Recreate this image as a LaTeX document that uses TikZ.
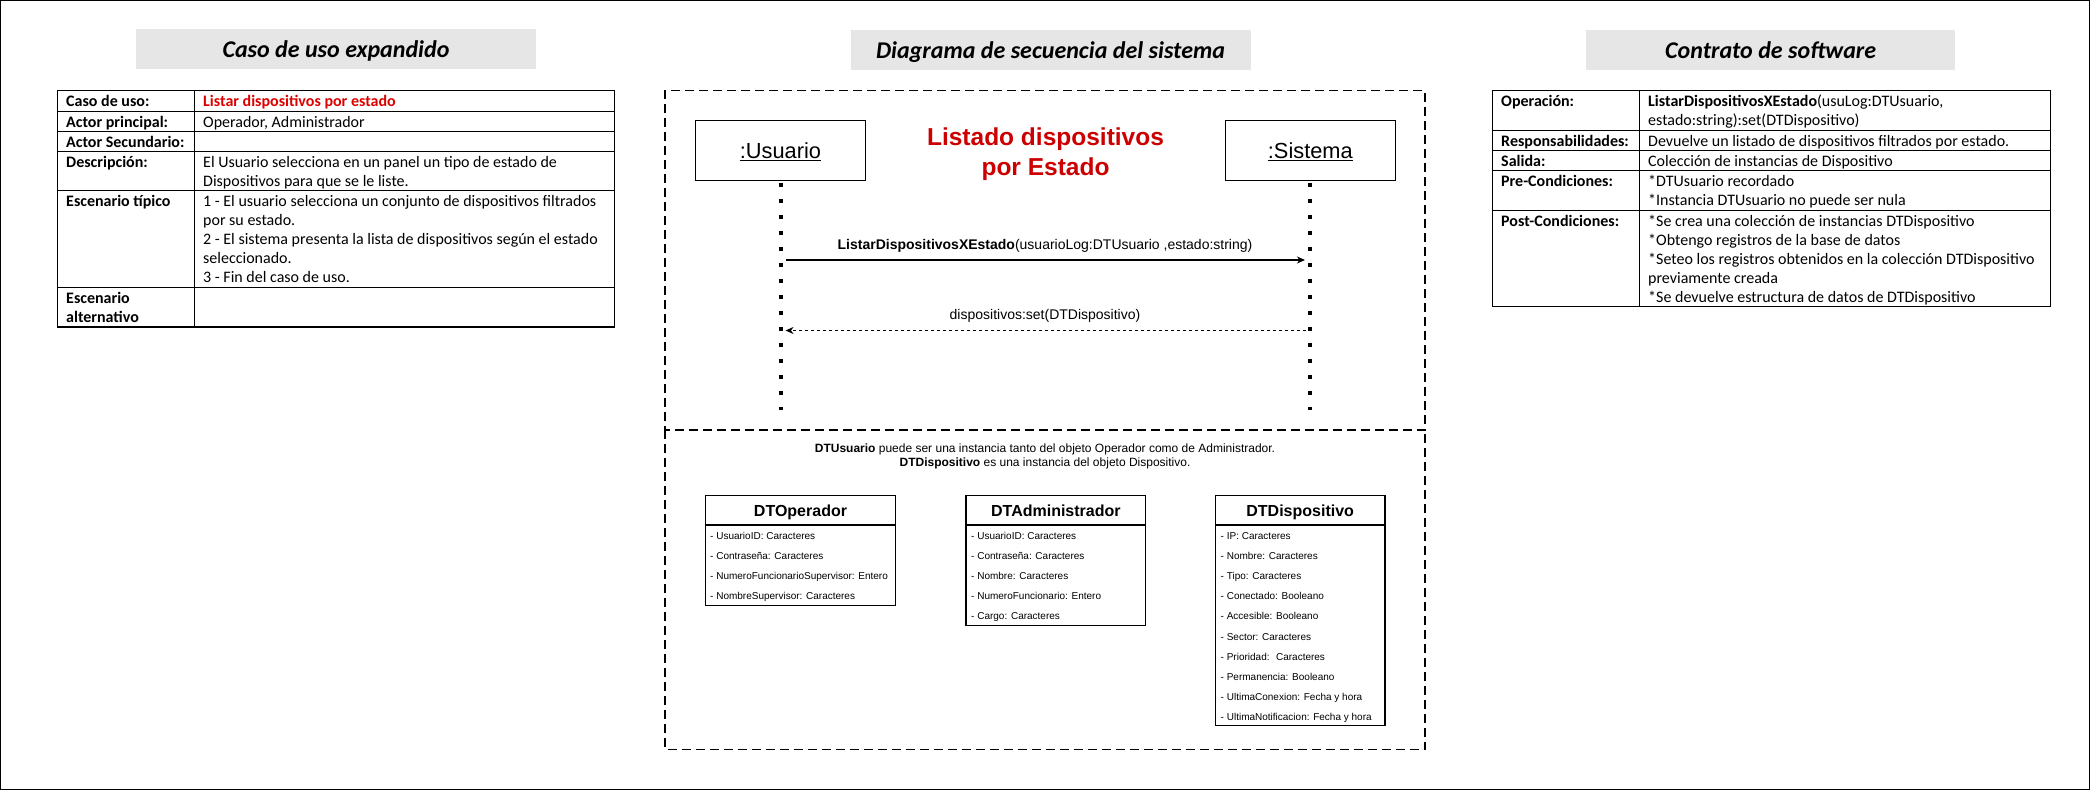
\documentclass[tikz,border=0pt]{standalone}
\usepackage{fontspec}
\setmainfont{Carlito}
\newfontfamily\arial{Liberation Sans}
\usetikzlibrary{arrows.meta}
\definecolor{tgray}{RGB}{230,230,230}
\definecolor{tred}{RGB}{222,0,0}
\definecolor{sred}{RGB}{204,0,0}
\begin{document}
\begin{tikzpicture}[x=1pt,y=-1pt,
  tline/.style={line width=1.2pt, draw=black},
  cellt/.style={anchor=north west, inner sep=0pt, align=left, font=\fontsize{16}{19}\selectfont},
  titlebox/.style={fill=tgray, draw=none, inner sep=0pt, minimum height=40pt, text height=21pt, text depth=4pt, font=\fontsize{24}{29}\selectfont\bfseries\itshape},
  seqbox/.style={draw, line width=1.3pt, minimum width=170pt, minimum height=59.8pt, inner sep=0pt},
  seqtext/.style={inner sep=0pt, font=\arial\fontsize{21.8}{26}\selectfont},
  lifeline/.style={line width=4pt, dash pattern=on 4pt off 12pt},
  msg/.style={line width=1.3pt, -{Stealth[length=8pt,width=7pt,inset=2.5pt]}},
  retmsg/.style={msg, dash pattern=on 3pt off 3pt},
  frame/.style={line width=1.3pt, dash pattern=on 9pt off 5pt},
  msglabel/.style={anchor=base, inner sep=0pt, font=\arial\fontsize{14}{17}\selectfont},
  note/.style={anchor=base, inner sep=0pt, font=\arial\fontsize{12}{14}\selectfont},
  attr/.style={anchor=base west, inner sep=0pt, font=\arial\fontsize{10}{12}\selectfont},
  ctitle/.style={anchor=base, inner sep=0pt, font=\arial\fontsize{16}{19}\selectfont\bfseries},
  cbox/.style={line width=1.3pt, draw=black}
]
\fill[white] (0,0) rectangle (2091,792);
\useasboundingbox (0,0) rectangle (2091,792);
\draw[line width=1.3pt] (0.65,0.65) rectangle (2089.6,789.6);

% ---------- titles ----------
\node[titlebox, minimum width=400pt] (t1) at (336,49.3) {Caso de uso expandido};
\node[titlebox, minimum width=400pt] (t2) at (1050.5,50.2) {Diagrama de secuencia del sistema};
\node[titlebox, minimum width=369pt] (t3) at (1770.7,49.7) {Contrato de software};

% ---------- left table ----------
\draw[tline] (57.3,90.3) rectangle (614.8,327);
\draw[tline] (194.4,90.3) -- (194.4,327);
\foreach \yy in {111.3,131.3,151.7,190.3,287.3}{\draw[tline] (57.3,\yy) -- (614.8,\yy);}
\node[cellt] (la1) at (66,93) {\strut\textbf{Caso de uso:}};
\node[cellt, text=tred] (lb1) at (203,93) {\strut\textbf{Listar dispositivos por estado}};
\node[cellt] (la2) at (66,114) {\strut\textbf{Actor principal:}};
\node[cellt] (lb2) at (203,114) {\strut Operador, Administrador};
\node[cellt] (la3) at (66,134) {\strut\textbf{Actor Secundario:}};
\node[cellt] (la4) at (66,154.4) {\strut\textbf{Descripción:}};
\node[cellt] (lb4) at (203,154.4) {\strut El Usuario selecciona en un panel un tipo de estado de\\\strut Dispositivos para que se le liste.};
\node[cellt] (la5) at (66,193) {\strut\textbf{Escenario típico}};
\node[cellt] (lb5) at (203,193) {\strut 1 - El usuario selecciona un conjunto de dispositivos filtrados\\\strut por su estado.\\\strut 2 - El sistema presenta la lista de dispositivos según el estado\\\strut seleccionado.\\\strut 3 - Fin del caso de uso.};
\node[cellt] (la6) at (66,290) {\strut\textbf{Escenario}\\\strut\textbf{alternativo}};

% ---------- right table ----------
\draw[tline] (1492.4,90.3) rectangle (2050.2,306.3);
\draw[tline] (1639.7,90.3) -- (1639.7,306.3);
\foreach \yy in {130.3,150.3,170.3,210.3}{\draw[tline] (1492.4,\yy) -- (2050.2,\yy);}
\node[cellt] (ra1) at (1501,93) {\strut\textbf{Operación:}};
\node[cellt] (rb1) at (1648,93) {\strut\textbf{ListarDispositivosXEstado}(usuLog:DTUsuario,\\\strut estado:string):set(DTDispositivo)};
\node[cellt] (ra2) at (1501,133) {\strut\textbf{Responsabilidades:}};
\node[cellt] (rb2) at (1648,133) {\strut Devuelve un listado de dispositivos filtrados por estado.};
\node[cellt] (ra3) at (1501,153) {\strut\textbf{Salida:}};
\node[cellt] (rb3) at (1648,153) {\strut Colección de instancias de Dispositivo};
\node[cellt] (ra4) at (1501,173) {\strut\textbf{Pre-Condiciones:}};
\node[cellt] (rb4) at (1648,173) {\strut *DTUsuario recordado\\\strut *Instancia DTUsuario no puede ser nula};
\node[cellt] (ra5) at (1501,213) {\strut\textbf{Post-Condiciones:}};
\node[cellt] (rb5) at (1648,213) {\strut *Se crea una colección de instancias DTDispositivo\\\strut *Obtengo registros de la base de datos\\\strut *Seteo los registros obtenidos en la colección DTDispositivo\\\strut previamente creada\\\strut *Se devuelve estructura de datos de DTDispositivo};

% ---------- sequence diagram ----------
\draw[frame] (665,90.3) rectangle (1425,430);
\draw[frame] (665,430) -- (665,749.5) -- (1425,749.5) -- (1425,430);

\node[seqbox] (usr) at (780.5,150.4) {};
\node[seqtext] (usrt) at (usr.center) {:Usuario};
\draw[line width=1.4pt] ([yshift=-2.3pt]usrt.base west) -- ([yshift=-2.3pt]usrt.base east);
\node[seqbox] (sis) at (1310.3,150.4) {};
\node[seqtext] (sist) at (sis.center) {:Sistema};
\draw[line width=1.4pt] ([yshift=-2.3pt]sist.base west) -- ([yshift=-2.3pt]sist.base east);

\node[align=center, inner sep=0pt, text=sred, font=\arial\fontsize{24.5}{30}\selectfont\bfseries] (seqtitle) at (1045.5,154.5) {Listado dispositivos\\por Estado};

\coordinate (uend) at (780.5,410);
\coordinate (send) at (1310.3,410);
\draw[lifeline] ([yshift=-2pt]usr.south) -- (uend);
\draw[lifeline] ([yshift=-2pt]sis.south) -- (send);

\coordinate (m1s) at (785.5,260);
\coordinate (m1e) at (1305,260);
\draw[msg] (m1s) -- (m1e);
\node[msglabel] (m1l) at (1045,249.3) {\textbf{ListarDispositivosXEstado}(usuarioLog:DTUsuario ,estado:string)};

\coordinate (m2s) at (1305.5,330.5);
\coordinate (m2e) at (785.5,330.5);
\draw[retmsg] (m2s) -- (m2e);
\node[msglabel] (m2l) at (1045,319.3) {dispositivos:set(DTDispositivo)};

% ---------- notes ----------
\node[note] (n1) at (1045,452.5) {\textbf{DTUsuario} puede ser una instancia tanto del objeto Operador como de Administrador.};
\node[note] (n2) at (1045,466.5) {\textbf{DTDispositivo} es una instancia del objeto Dispositivo.};

% ---------- classes ----------
\draw[cbox] (705.3,495.3) rectangle (895.7,605.3);
\draw[cbox] (705.3,525) -- (895.7,525);
\node[ctitle] (c1) at (800.5,516.3) {DTOperador};
\node[attr] (c1a) at (710,539) {- UsuarioID: Caracteres};
\node[attr] (c1b) at (710,559.1) {- Contraseña: Caracteres};
\node[attr] (c1c) at (710,579.2) {- NumeroFuncionarioSupervisor: Entero};
\node[attr] (c1d) at (710,599.3) {- NombreSupervisor: Caracteres};

\draw[cbox] (966,495.3) rectangle (1145.7,625.4);
\draw[cbox] (966,525) -- (1145.7,525);
\node[ctitle] (c2) at (1055.85,516.3) {DTAdministrador};
\node[attr] (c2a) at (971,539) {- UsuarioID: Caracteres};
\node[attr] (c2b) at (971,559.1) {- Contraseña: Caracteres};
\node[attr] (c2c) at (971,579.2) {- Nombre: Caracteres};
\node[attr] (c2d) at (971,599.3) {- NumeroFuncionario: Entero};
\node[attr] (c2e) at (971,619.4) {- Cargo: Caracteres};

\draw[cbox] (1215.3,495.3) rectangle (1385,725.7);
\draw[cbox] (1215.3,525) -- (1385,525);
\node[ctitle] (c3) at (1300.15,516.3) {DTDispositivo};
\node[attr] (c3a) at (1220.5,539.3) {- IP: Caracteres};
\node[attr] (c3b) at (1220.5,559.45) {- Nombre: Caracteres};
\node[attr] (c3c) at (1220.5,579.6) {- Tipo: Caracteres};
\node[attr] (c3d) at (1220.5,599.75) {- Conectado: Booleano};
\node[attr] (c3e) at (1220.5,619.9) {- Accesible: Booleano};
\node[attr] (c3f) at (1220.5,640.05) {- Sector: Caracteres};
\node[attr] (c3g) at (1220.5,660.2) {- Prioridad:~ Caracteres};
\node[attr] (c3h) at (1220.5,680.35) {- Permanencia: Booleano};
\node[attr] (c3i) at (1220.5,700.5) {- UltimaConexion: Fecha y hora};
\node[attr] (c3j) at (1220.5,720.65) {- UltimaNotificacion: Fecha y hora};
\end{tikzpicture}
\end{document}
